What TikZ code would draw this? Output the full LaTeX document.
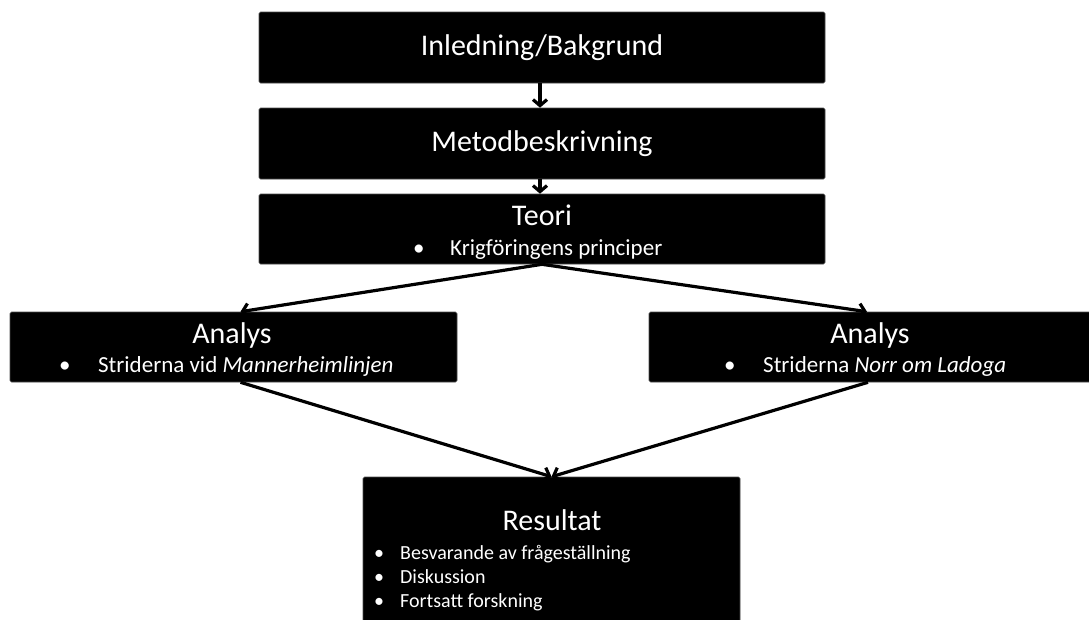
\documentclass[tikz,border=0pt]{standalone}
\usepackage{fontspec}
\setmainfont{Carlito}
\usetikzlibrary{arrows.meta}

\begin{document}
\begin{tikzpicture}[x=1pt, y=-1pt, box/.style={rectangle, fill=black, draw=black!70, line width=0.6pt, rounded corners=1.5pt, inner sep=0pt, text=white, font=\fontsize{30}{36}\selectfont}, head/.style={text=white, inner sep=0pt, anchor=base, font=\fontsize{30}{36}\selectfont}, item/.style={text=white, inner sep=0pt, anchor=base west, font=\fontsize{23}{28}\selectfont}, small/.style={item, font=\fontsize{20}{24}\selectfont}, conn/.style={line width=3.2pt, -{Straight Barb[length=6pt, width=14pt]}}]

  \useasboundingbox (0,0) rectangle (1089,619);

  \node[box, minimum width=566pt, minimum height=71pt] (inledning) at (542,47.5) {Inledning/Bakgrund};
  \node[box, minimum width=566pt, minimum height=71pt] (metod) at (542,143.5) {Metodbeskrivning};
  \node[box, minimum width=566pt, minimum height=70pt] (teori) at (542,229) {};
  \node[box, minimum width=447pt, minimum height=70pt] (analysL) at (233.5,347) {};
  \node[box, minimum width=446pt, minimum height=70pt] (analysR) at (872,347) {};
  \node[box, minimum width=377pt, minimum height=148pt] (resultat) at (551.5,551) {};

  \node[head] (teoriT) at (542,225) {Teori};
  \node[item] (teoriA) at (413,255) {\makebox[37pt][l]{•}Krigföringens principer};

  \node[head] (analysLT) at (232,343) {Analys};
  \node[item] (analysLA) at (59,372) {\makebox[39pt][l]{•}Striderna vid \textit{Mannerheimlinjen}};

  \node[head] (analysRT) at (870,343) {Analys};
  \node[item] (analysRA) at (724,372) {\makebox[39pt][l]{•}Striderna \textit{Norr om Ladoga}};

  \node[head] (resultatT) at (552,530) {Resultat};
  \node[small] (resultatA) at (374,559) {\makebox[26pt][l]{•}Besvarande av frågeställning};
  \node[small] (resultatB) at (374,583) {\makebox[26pt][l]{•}Diskussion};
  \node[small] (resultatC) at (374,607) {\makebox[26pt][l]{•}Fortsatt forskning};

  \draw[conn] ([xshift=-2pt]inledning.south) -- ([xshift=-2pt]metod.north);
  \draw[conn] ([xshift=-2pt]metod.south) -- ([xshift=-2pt]teori.north);
  \draw[conn] (teori.south) -- ([xshift=7pt]analysL.north);
  \draw[conn] (teori.south) -- ([xshift=-5pt]analysR.north);
  \draw[conn] ([xshift=7pt]analysL.south) -- (resultat.north);
  \draw[conn] ([xshift=-4pt]analysR.south) -- (resultat.north);
\end{tikzpicture}
\end{document}
